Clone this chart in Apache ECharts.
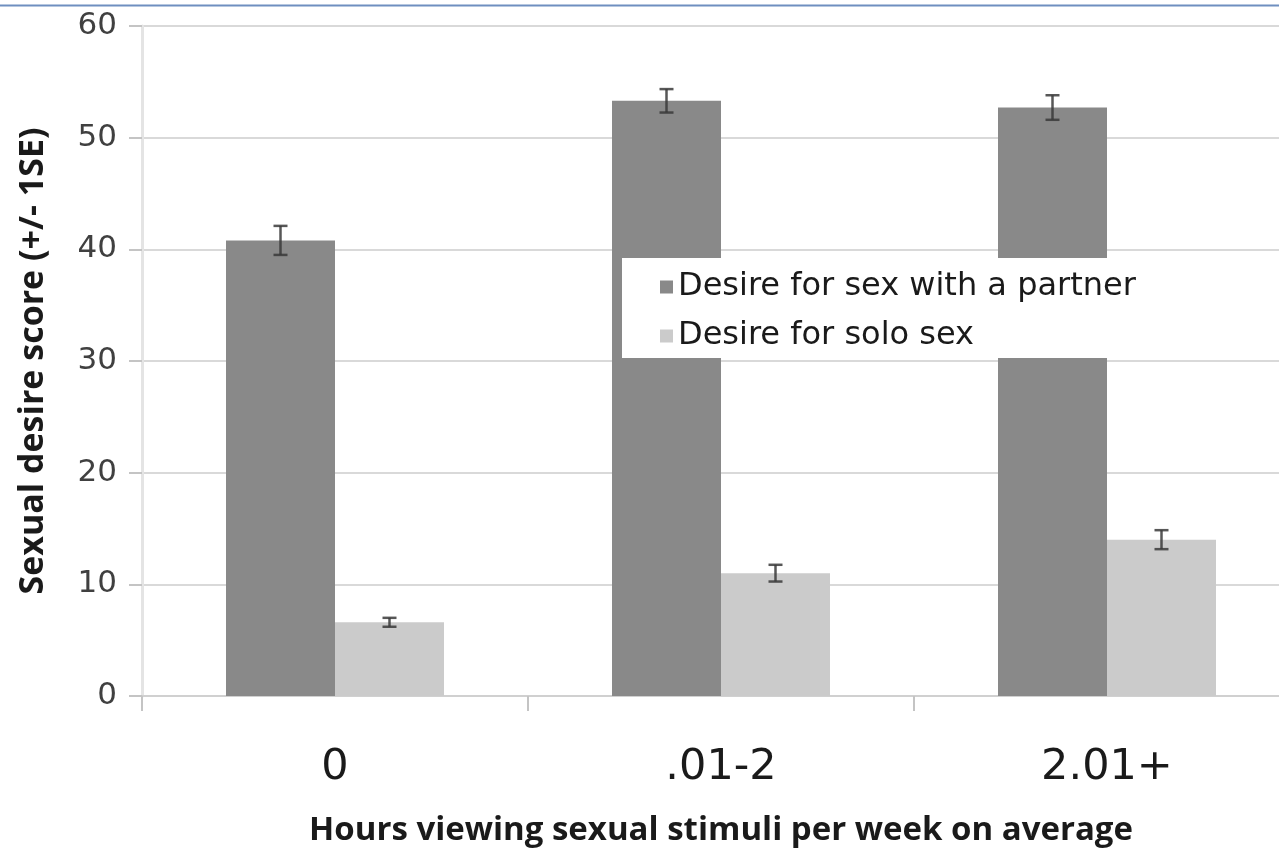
<!DOCTYPE html>
<html>
<head>
<meta charset="utf-8">
<script src="https://cdn.jsdelivr.net/npm/echarts@6/dist/echarts.min.js"></script>
<style>
html,body{margin:0;padding:0;background:#fff;overflow:hidden;}
#chart{width:1300px;height:852px;}
</style>
</head>
<body>
<div id="chart"></div>
<script>
const categories = ['0', '.01-2', '2.01+'];
const partnerMean = [40.8, 53.3, 52.7];
const partnerSE = [1.3, 1.05, 1.1];
const soloMean = [6.6, 11.0, 14.0];
const soloSE = [0.4, 0.75, 0.85];
const seriesNames = ['Desire for sex with a partner', 'Desire for solo sex'];
const yTicks = [0, 10, 20, 30, 40, 50, 60];

const BAR_W = 109;
const TITLE_FONT = "'Open Sans', sans-serif";
const BODY_FONT = "'DejaVu Sans', sans-serif";

function errData(means, ses) {
  return means.map((m, i) => [i, m, ses[i]]);
}
function errSeries(means, ses, offset) {
  return {
    type: 'custom',
    z: 5,
    silent: true,
    data: errData(means, ses),
    encode: { x: 0, y: 1 },
    renderItem: function (params, api) {
      const i = api.value(0), m = api.value(1), s = api.value(2);
      const hi = api.coord([i, m + s]);
      const lo = api.coord([i, m - s]);
      const x = hi[0] + offset;
      const cap = 7;
      const style = { stroke: '#3a3a3a', lineWidth: 2.5, opacity: 0.85 };
      return {
        type: 'group',
        children: [
          { type: 'line', shape: { x1: x, y1: hi[1], x2: x, y2: lo[1] }, style: style },
          { type: 'line', shape: { x1: x - cap, y1: hi[1], x2: x + cap, y2: hi[1] }, style: style },
          { type: 'line', shape: { x1: x - cap, y1: lo[1], x2: x + cap, y2: lo[1] }, style: style }
        ]
      };
    }
  };
}

const chart = echarts.init(document.getElementById('chart'));
chart.setOption({
  animation: false,
  backgroundColor: '#ffffff',
  graphic: [{
    type: 'line', z: 10,
    shape: { x1: 0, y1: 5.5, x2: 1300, y2: 5.5 },
    style: { stroke: '#6f8fc0', lineWidth: 2 }
  }],
  grid: { left: 142, top: 26, right: 0, bottom: 152, containLabel: false },
  legend: {
    orient: 'vertical',
    left: 622, top: 258,
    backgroundColor: '#ffffff',
    padding: [13, 18, 6, 38],
    itemGap: 17,
    itemWidth: 13, itemHeight: 13,
    icon: 'rect',
    textStyle: { fontSize: 32, color: '#1a1a1a', fontFamily: BODY_FONT },
    data: seriesNames
  },
  xAxis: {
    type: 'category',
    data: categories,
    axisLine: { lineStyle: { color: '#d0d0d0', width: 2 } },
    axisTick: { show: true, length: 15, lineStyle: { color: '#c4c4c4', width: 2 } },
    axisLabel: { fontSize: 43, color: '#1a1a1a', margin: 50, fontFamily: BODY_FONT },
    name: 'Hours viewing sexual stimuli per week on average',
    nameLocation: 'middle',
    nameGap: 118,
    nameTextStyle: { fontSize: 33, fontWeight: 'bold', color: '#1a1a1a', fontFamily: TITLE_FONT }
  },
  yAxis: {
    type: 'value',
    min: yTicks[0], max: yTicks[yTicks.length - 1], interval: 10,
    axisLine: { show: true, lineStyle: { color: '#e4e4e4', width: 3 } },
    axisTick: { show: true, length: 13, lineStyle: { color: '#c4c4c4', width: 2 } },
    splitLine: { lineStyle: { color: '#d9d9d9', width: 2 } },
    axisLabel: { fontSize: 31, color: '#404040', margin: 25, fontFamily: BODY_FONT },
    name: 'Sexual desire score (+/- 1SE)',
    nameLocation: 'middle',
    nameGap: 92,
    nameTextStyle: { fontSize: 34, fontWeight: 'bold', color: '#1a1a1a', fontFamily: TITLE_FONT }
  },
  series: [
    { name: seriesNames[0], type: 'bar', data: partnerMean, barWidth: BAR_W, barGap: '0%',
      itemStyle: { color: '#898989' } },
    { name: seriesNames[1], type: 'bar', data: soloMean, barWidth: BAR_W, barGap: '0%',
      itemStyle: { color: '#cbcbcb' } },
    errSeries(partnerMean, partnerSE, -BAR_W / 2),
    errSeries(soloMean, soloSE, BAR_W / 2)
  ]
});
</script>
</body>
</html>
